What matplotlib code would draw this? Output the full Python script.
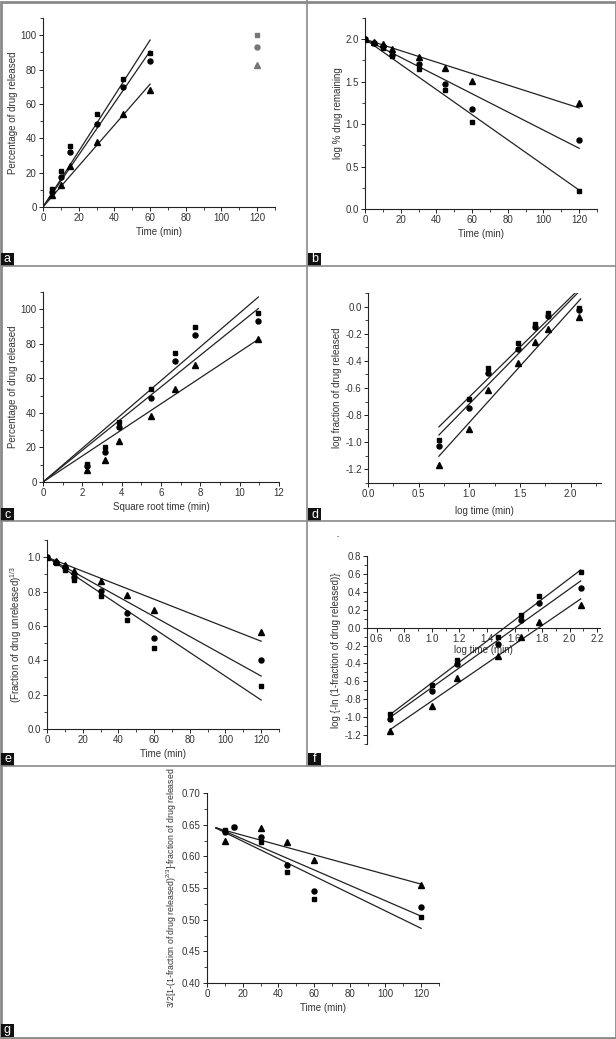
import numpy as np
import matplotlib.pyplot as plt
from matplotlib.ticker import MultipleLocator, FormatStrFormatter
from matplotlib.patches import Rectangle
from matplotlib.lines import Line2D

plt.rcParams['font.family'] = ['Liberation Sans', 'DejaVu Sans']
plt.rcParams['axes.unicode_minus'] = False
plt.rcParams['mathtext.fontset'] = 'custom'
plt.rcParams['mathtext.rm'] = 'Liberation Sans'
plt.rcParams['mathtext.it'] = 'Liberation Sans'

# ---- data ----
time_min = [5, 10, 15, 30, 45, 60, 120]
time_min0 = [0, 5, 10, 15, 30, 45, 60, 120]
sqrt_time = [2.24, 3.16, 3.87, 5.48, 6.71, 7.75, 10.95]
log_time = [0.70, 1.00, 1.18, 1.48, 1.65, 1.78, 2.08]
time_g = [10, 15, 30, 45, 60, 120]

# a: zero order (% released)
a_sq = [10.2, 20.8, 35.6, 54, 74.6, 89.4, 100]
a_ci = [9, 17.6, 32.2, 48.4, 69.8, 85, 93.4]
a_tr = [7, 12.8, 24, 38, 54.2, 68.2, 82.8]

# b: first order (log % remaining)
b_sq = [2.0, 1.95, 1.90, 1.80, 1.655, 1.40, 1.02, 0.21]
b_ci = [2.0, 1.96, 1.92, 1.82, 1.705, 1.47, 1.18, 0.815]
b_tr = [2.0, 1.97, 1.94, 1.88, 1.79, 1.66, 1.51, 1.25]

# c: Higuchi (% released vs sqrt t)
c_sq = [10.5, 20.5, 35, 54, 74.5, 89.5, 98.1]
c_ci = [9, 17.5, 32, 48.5, 70, 85, 93.2]
c_tr = [6.9, 12.5, 24, 38, 54, 68, 82.6]

# d: Korsmeyer-Peppas
d_sq = [-0.98, -0.68, -0.45, -0.27, -0.125, -0.045, -0.007]
d_ci = [-1.03, -0.75, -0.49, -0.31, -0.15, -0.07, -0.028]
d_tr = [-1.17, -0.90, -0.615, -0.416, -0.26, -0.164, -0.077]

# e: Hixson-Crowell
e_sq = [1.0, 0.965, 0.926, 0.867, 0.776, 0.637, 0.474, 0.251]
e_ci = [1.0, 0.97, 0.94, 0.883, 0.805, 0.673, 0.532, 0.404]
e_tr = [1.0, 0.978, 0.955, 0.922, 0.864, 0.778, 0.692, 0.563]

# f: Weibull
f_sq = [-0.97, -0.64, -0.36, -0.11, 0.14, 0.35, 0.62]
f_ci = [-1.02, -0.71, -0.41, -0.18, 0.08, 0.28, 0.44]
f_tr = [-1.16, -0.87, -0.56, -0.32, -0.11, 0.06, 0.25]

# g: Hopfenberg-type plot (no triangle visible at 15 min)
g_sq = [0.642, 0.646, 0.622, 0.576, 0.533, 0.504]
g_ci = [0.639, 0.646, 0.631, 0.587, 0.546, 0.520]
g_tr = [0.625, np.nan, 0.644, 0.622, 0.594, 0.554]

W, H = 616, 1039
fig = plt.figure(figsize=(W / 100, H / 100), dpi=100)
INK = '#222222'
TXT = '#333333'
GRID = '#8a8a8a'


def px_axes(l, t, r, b):
    return fig.add_axes([l / W, 1 - b / H, (r - l) / W, (b - t) / H])


def style(ax, xlim, ylim, xmaj, xmin, ymaj, ymin, xfmt, yfmt):
    ax.set_xlim(*xlim)
    ax.set_ylim(*ylim)
    for s in ['top', 'right']:
        ax.spines[s].set_visible(False)
    for s in ['left', 'bottom']:
        ax.spines[s].set_linewidth(0.8)
        ax.spines[s].set_color(INK)
    ax.xaxis.set_major_locator(MultipleLocator(xmaj))
    ax.xaxis.set_minor_locator(MultipleLocator(xmin))
    ax.yaxis.set_major_locator(MultipleLocator(ymaj))
    ax.yaxis.set_minor_locator(MultipleLocator(ymin))
    ax.xaxis.set_major_formatter(FormatStrFormatter(xfmt))
    ax.yaxis.set_major_formatter(FormatStrFormatter(yfmt))
    ax.tick_params(which='major', direction='out', length=3, width=0.7,
                   labelsize=7, pad=1.5, color=INK, labelcolor=TXT)
    ax.tick_params(which='minor', direction='out', length=2, width=0.6, color=INK)
    ax.patch.set_alpha(0)


def fit_line(x, y, anchor=None):
    x = np.asarray(x, float)
    y = np.asarray(y, float)
    ok = ~np.isnan(y)
    x, y = x[ok], y[ok]
    if anchor is None:
        k, b = np.polyfit(x, y, 1)
    else:
        x0, y0 = anchor
        k = np.sum((x - x0) * (y - y0)) / np.sum((x - x0) ** 2)
        b = y0 - k * x0
    return k, b


def draw_series(ax, x, ys, span, anchor=None, nfit=None, grey_tail=False):
    marks = [('s', 3.4), ('o', 3.6), ('^', 3.8)]
    x = np.asarray(x, float)
    for (m, ms), y in zip(marks, ys):
        y = np.asarray(y, float)
        n = len(y) if nfit is None else nfit
        k, b = fit_line(x[:n], y[:n], anchor)
        xs = np.array(span, float)
        ax.plot(xs, k * xs + b, color=INK, lw=0.9, zorder=2)
        if grey_tail:
            ax.plot(x[:n], y[:n], m, ms=ms, color='black', zorder=3)
            ax.plot(x[n:], y[n:], m, ms=ms, color='#777777', zorder=3)
        else:
            ax.plot(x, y, m, ms=ms, color='black', zorder=3)


def labels(ax, xl, yl, xpad=3, ypad=2, ysize=7):
    ax.set_xlabel(xl, fontsize=7, color=TXT, labelpad=xpad)
    ax.set_ylabel(yl, fontsize=ysize, color=TXT, labelpad=ypad)


# a
ax = px_axes(43, 18, 275, 207)
style(ax, (0, 130), (0, 110), 20, 10, 20, 10, '%d', '%d')
draw_series(ax, time_min, [a_sq, a_ci, a_tr], (0, 60), anchor=(0, 0), nfit=6, grey_tail=True)
labels(ax, 'Time (min)', 'Percentage of drug released')

# b
ax = px_axes(365, 18, 597, 209)
style(ax, (0, 130), (0, 2.25), 20, 10, 0.5, 0.25, '%d', '%.1f')
draw_series(ax, time_min0, [b_sq, b_ci, b_tr], (0, 120), anchor=(0, 2.0))
labels(ax, 'Time (min)', 'log % drug remaining')

# c
ax = px_axes(43, 292, 279, 482)
style(ax, (0, 12), (0, 110), 2, 1, 20, 10, '%d', '%d')
draw_series(ax, sqrt_time, [c_sq, c_ci, c_tr], (0, 10.95), anchor=(0, 0))
labels(ax, 'Square root time (min)', 'Percentage of drug released')

# d
ax = px_axes(368, 293, 601, 483)
style(ax, (0, 2.3), (-1.3, 0.1), 0.5, 0.25, 0.2, 0.1, '%.1f', '%.1f')
draw_series(ax, log_time, [d_sq, d_ci, d_tr], (0.70, 2.10))
labels(ax, 'log time (min)', 'log fraction of drug released', xpad=5)

# e
ax = px_axes(47, 540, 279, 729)
style(ax, (0, 130), (0, 1.1), 20, 10, 0.2, 0.1, '%d', '%.1f')
draw_series(ax, time_min0, [e_sq, e_ci, e_tr], (0, 120), anchor=(0, 1.0))
labels(ax, 'Time (min)', '(Fraction of drug unreleased)$^{1/3}$')

# f
ax = px_axes(367, 556, 600, 744)
style(ax, (0.53, 2.22), (-1.3, 0.8), 0.2, 0.1, 0.2, 0.1, '%.1f', '%.1f')
ax.spines['bottom'].set_position(('data', 0))
draw_series(ax, log_time, [f_sq, f_ci, f_tr], (0.70, 2.08))
labels(ax, 'log time (min)', 'log {-ln (1-fraction of drug released)}', xpad=1)
fig.text(338 / W, 1 - 537 / H, '-', fontsize=5, color=TXT, ha='center', va='center')

# g
ax = px_axes(207, 793, 439, 983)
style(ax, (0, 130), (0.40, 0.70), 20, 10, 0.05, 0.025, '%d', '%.2f')
draw_series(ax, time_g, [g_sq, g_ci, g_tr], (5, 120))
labels(ax, 'Time (min)',
       '3/2[1-(1-fraction of drug released)$^{2/3}$]-fraction of drug released',
       ysize=6.3)

# panel frame, separators and letter tags
lines = [((0, W), (266, 266)), ((0, W), (521, 521)), ((0, W), (766, 766)),
         ((307, 307), (0, 766))]
for xs, ys in lines:
    fig.add_artist(Line2D([x / W for x in xs], [1 - y / H for y in ys],
                          color=GRID, lw=1.2))
fig.add_artist(Rectangle((0.5 / W, 1.5 / H), (W - 1) / W, (H - 3) / H,
                         fill=False, edgecolor=GRID, lw=2))

tags = [('a', 1, 266), ('b', 308, 266), ('c', 1, 521), ('d', 308, 521),
        ('e', 1, 766), ('f', 308, 766), ('g', 1, 1037)]
for letter, x0, yb in tags:
    fig.add_artist(Rectangle((x0 / W, 1 - yb / H), 13 / W, 13 / H,
                             facecolor='#111111', edgecolor='none'))
    fig.text((x0 + 6.5) / W, 1 - (yb - 6.5) / H, letter, color='white',
             fontsize=9, ha='center', va='center')

fig.savefig('out.png', dpi=100)
